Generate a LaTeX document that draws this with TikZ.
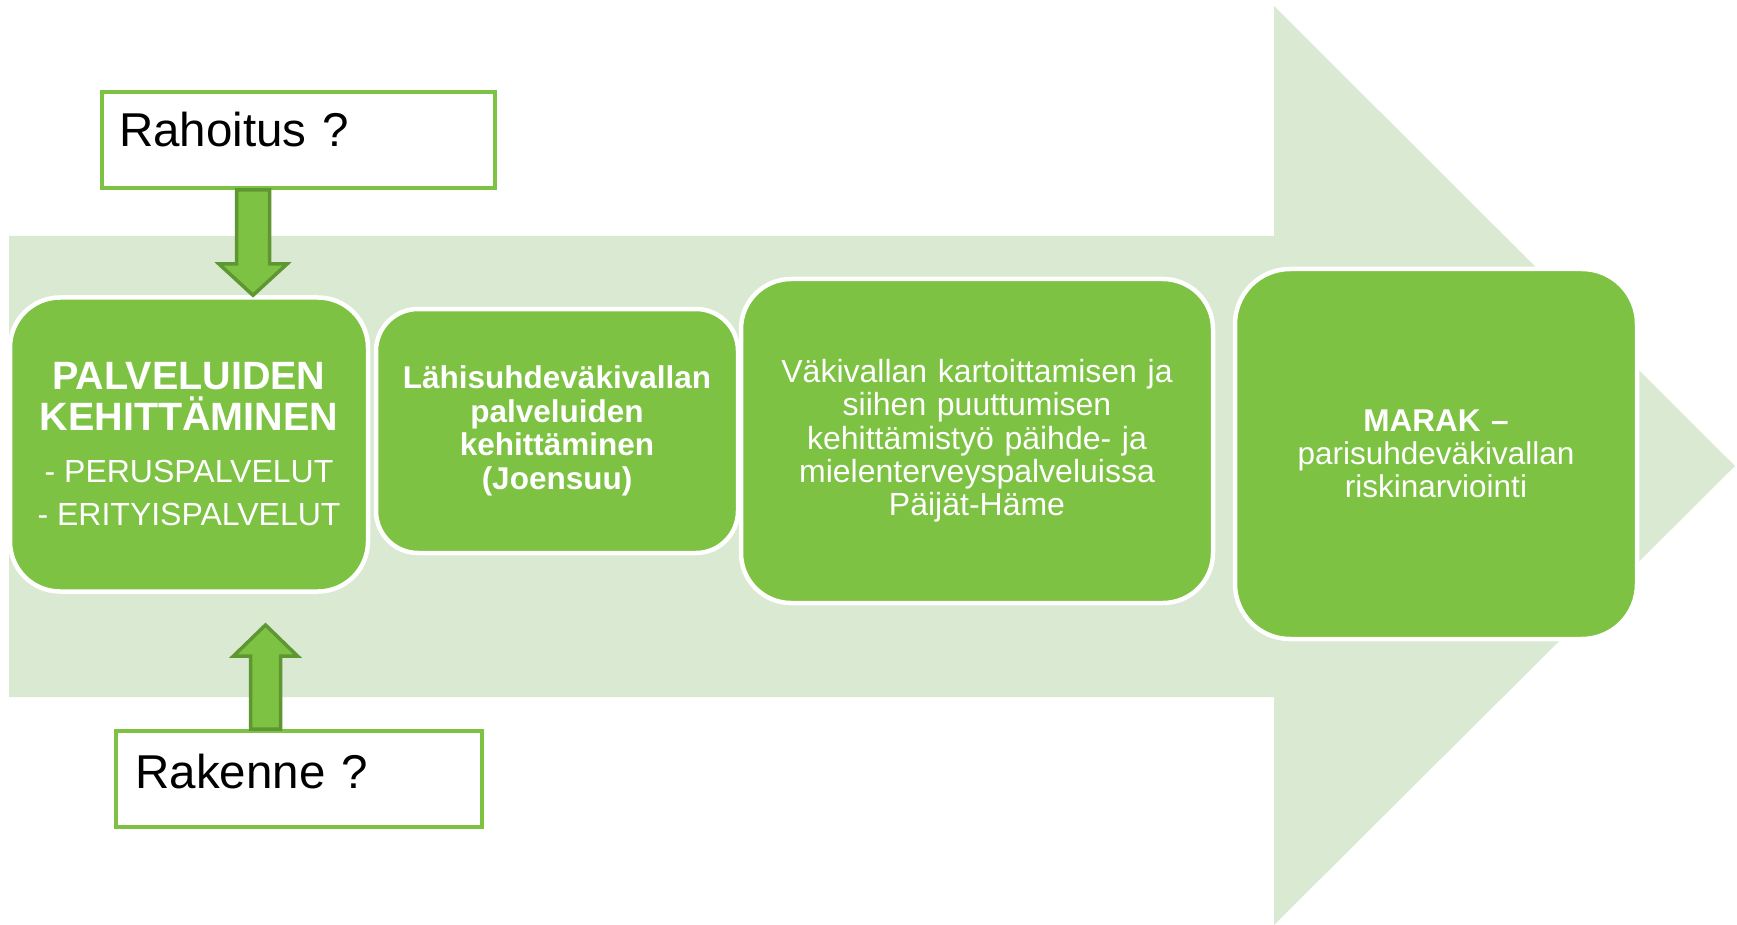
\documentclass[tikz,border=0pt]{standalone}
\usepackage{fontspec}
\setmainfont{Liberation Sans}
\usetikzlibrary{calc}
\definecolor{bgarrow}{HTML}{D9E9D2}
\definecolor{boxgreen}{HTML}{7DC243}
\definecolor{darkgreen}{HTML}{5E9732}
\begin{document}
\begin{tikzpicture}[x=1pt,y=-1pt,
  stage/.style={draw=white, line width=4.5pt, fill=boxgreen, text=white,
    inner xsep=0pt, inner ysep=0pt, align=center},
  qbox/.style={draw=boxgreen, line width=4pt, fill=white, inner ysep=0pt,
    align=left, font=\fontsize{47.5}{57}\selectfont, text=black},
  blockarrow/.style={draw=darkgreen, line width=3.5pt, fill=boxgreen, line join=miter}]
\useasboundingbox (0,0) rectangle (1737,925);
% big background arrow
\fill[bgarrow] (9,236) -- (1274,236) -- (1274,6) -- (1735,466) -- (1274,925)
  -- (1274,697) -- (9,697) -- cycle;
% stage boxes
\node[stage, rounded corners=50pt, text width=358pt, minimum height=294pt] (b1) at (189,444.5)
  {{\fontsize{39.5}{41}\selectfont\bfseries PALVELUIDEN\\KEHITTÄMINEN\par}\vspace{9pt}%
   {\fontsize{32}{43}\selectfont -\hspace{0.278em}PERUSPALVELUT\\-\hspace{0.278em}ERITYISPALVELUT\par}};
\node[stage, rounded corners=42pt, text width=362pt, minimum height=244pt,
  font=\bfseries\fontsize{31.5}{33.5}\selectfont] (b2) at (557,431)
  {Lähisuhdeväkivallan\\palveluiden\\kehittäminen\\(Joensuu)};
\node[stage, rounded corners=50pt, text width=472pt, minimum height=324pt,
  font=\fontsize{32}{33.3}\selectfont] (b3) at (977,441)
  {Väkivallan kartoittamisen ja\\siihen puuttumisen\\kehittämistyö päihde- ja\\mielenterveyspalveluissa\\Päijät-Häme};
\node[stage, rounded corners=55pt, text width=402pt, minimum height=370pt,
  font=\fontsize{31.5}{33}\selectfont] (b4) at (1436,454)
  {{\bfseries MARAK –}\\parisuhdeväkivallan\\riskinarviointi};
% question boxes
\node[qbox, text width=359pt, inner xsep=17pt, minimum height=96pt,
  text height=30pt, text depth=16pt] (rah) at (298.5,140) {Rahoitus ?};
\node[qbox, text width=326.5pt, inner xsep=19.5pt, minimum height=96pt,
  text height=31pt, text depth=13pt] (rak) at (298.75,779) {Rakenne ?};
% block arrows
\draw[blockarrow] (236.5,0 |- rah.south) -- (236.5,264) -- (219,264) -- (253,0 |- b1.north)
  -- (287,264) -- (269.5,264) -- (269.5,0 |- rah.south) -- cycle;
\draw[blockarrow] (250.5,0 |- rak.north) -- (250.5,656) -- (233.5,656) -- (265.5,625)
  -- (297.5,656) -- (280.5,656) -- (280.5,0 |- rak.north) -- cycle;
\end{tikzpicture}
\end{document}
